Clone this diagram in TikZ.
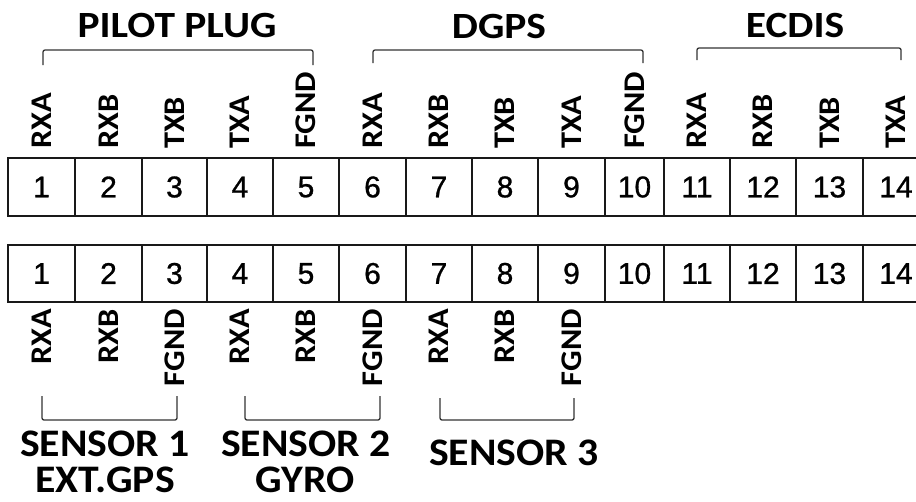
\documentclass[tikz,border=0pt]{standalone}
\usepackage{fontspec}
\usepackage{graphicx}
\setmainfont{Carlito}
\newfontfamily\numfont[FakeBold=0.9]{Liberation Sans}
\newcommand{\wide}[2]{\scalebox{#1}[1]{#2}}
\begin{document}
\begin{tikzpicture}[x=1pt,y=-1pt,
  cell/.style={draw=black!90, line width=1.7pt, inner sep=0pt, font=\numfont\fontsize{30}{30}\selectfont},
  pinlab/.style={rotate=90, inner sep=0pt, font=\bfseries\fontsize{30}{30}\selectfont},
  title/.style={inner sep=0pt, font=\bfseries\fontsize{37}{37}\selectfont},
  sensor/.style={inner sep=0pt, font=\bfseries\fontsize{39}{39}\selectfont},
  brk/.style={draw=black!80, line width=1.3pt, rounded corners=2pt}]
\fill[white] (0,0) rectangle (916,501);
\useasboundingbox (0,0) rectangle (916,501);
% cells
\foreach \i/\l/\r in {1/8/75,2/75/142,3/142/207,4/207/273,5/273/339,6/339/406,7/406/472,8/472/538,9/538/605,10/605/664,11/664/730,12/730/796,13/796/863,14/863/929}{
  \node[cell, minimum width={(\r-\l)*1pt}, minimum height=58pt] (t\i) at ({(\l+\r)/2},187) {\i};
  \node[cell, minimum width={(\r-\l)*1pt}, minimum height=57pt] (b\i) at ({(\l+\r)/2},273.5) {\i};
}
% top pin labels
\foreach \i/\t in {1/RXA,2/RXB,3/TXB,4/TXA,5/FGND,6/RXA,7/RXB,8/TXB,9/TXA,10/FGND,11/RXA,12/RXB,13/TXB,14/TXA}{
  \node[pinlab, anchor=west] (tl\i) at ([yshift=8pt]t\i.north) {\wide{1.08}{\t}};
}
% bottom pin labels
\foreach \i/\t in {1/RXA,2/RXB,3/FGND,4/RXA,5/RXB,6/FGND,7/RXA,8/RXB,9/FGND}{
  \node[pinlab, anchor=east] (bl\i) at ([yshift=-6pt]b\i.south) {\wide{1.08}{\t}};
}
% titles
\node[title] (pilot) at (177,26) {\wide{1.12}{PILOT PLUG}};
\node[title] (dgps) at (499,26) {\wide{1.12}{DGPS}};
\node[title] (ecdis) at (795,25) {\wide{1.12}{ECDIS}};
\node[sensor] (s1) at (105,444) {\wide{1.07}{SENSOR 1}};
\node[sensor] (s1b) at (105,480) {\wide{1.07}{EXT.GPS}};
\node[sensor] (s2) at (306,444) {\wide{1.07}{SENSOR 2}};
\node[sensor] (s2b) at (305,480) {\wide{1.07}{GYRO}};
\node[sensor] (s3) at (514,453) {\wide{1.07}{SENSOR 3}};
% top brackets
\coordinate (pa) at (43,65); \coordinate (pb) at (43,50); \coordinate (pc) at (313,50); \coordinate (pd) at (313,65);
\coordinate (da) at (373,63); \coordinate (db) at (373,50); \coordinate (dc) at (643,50); \coordinate (dd) at (643,63);
\coordinate (ea) at (697,60); \coordinate (eb) at (697,48); \coordinate (ec) at (901,48); \coordinate (ed) at (901,60);
\draw[brk] (pa) -- (pb) -- (pc) -- (pd);
\draw[brk] (da) -- (db) -- (dc) -- (dd);
\draw[brk] (ea) -- (eb) -- (ec) -- (ed);
% bottom brackets
\coordinate (s1a) at (42,396); \coordinate (s1c) at (42,420); \coordinate (s1d) at (177,420); \coordinate (s1e) at (177,396);
\coordinate (s2a) at (245,396); \coordinate (s2c) at (245,420); \coordinate (s2d) at (380,420); \coordinate (s2e) at (380,396);
\coordinate (s3a) at (440,398); \coordinate (s3c) at (440,420); \coordinate (s3d) at (574,420); \coordinate (s3e) at (574,398);
\draw[brk] (s1a) -- (s1c) -- (s1d) -- (s1e);
\draw[brk] (s2a) -- (s2c) -- (s2d) -- (s2e);
\draw[brk] (s3a) -- (s3c) -- (s3d) -- (s3e);
\end{tikzpicture}
\end{document}
